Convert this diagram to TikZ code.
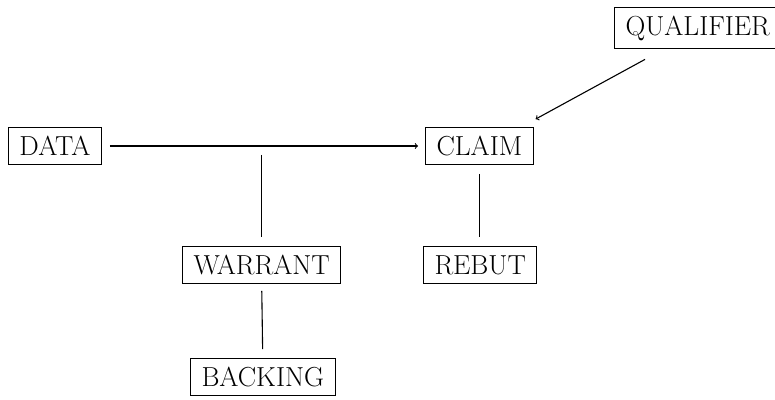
\documentclass[tikz,border=0pt]{standalone}
\usetikzlibrary{calc}
\begin{document}
\begin{tikzpicture}[x=1pt,y=1pt,
  box/.style={draw, line width=1pt, inner xsep=11pt, inner ysep=8.5pt,
    anchor=west, font=\fontsize{27.5}{31}\selectfont},
  conn/.style={line width=1.1pt}]
\useasboundingbox (0,0) rectangle (775,399);
\node[box] (data) at (8,253) {DATA};
\node[box] (claim) at (425,253) {CLAIM};
\node[box] (qual) at (614,371) {QUALIFIER};
\node[box] (warrant) at (182,134) {WARRANT};
\node[box] (rebut) at (423,134) {REBUT};
\node[box] (backing) at (190,22) {BACKING};
\coordinate (j) at (warrant.north |- data.east);
\draw[conn,->,shorten <=8pt,shorten >=7pt] (data.east) -- (claim.west);
\draw[conn,shorten <=9pt,shorten >=9pt] (j) -- (warrant.north);
\draw[conn,shorten <=9pt,shorten >=9pt] (claim.south) -- (claim.south |- rebut.north);
\draw[conn,shorten <=7pt,shorten >=9pt] (warrant.south) -- (backing.north);
\draw[conn,->] ($(qual.south west)+(31pt,-10pt)$) -- ($(claim.north east)+(2pt,8pt)$);
\end{tikzpicture}
\end{document}
